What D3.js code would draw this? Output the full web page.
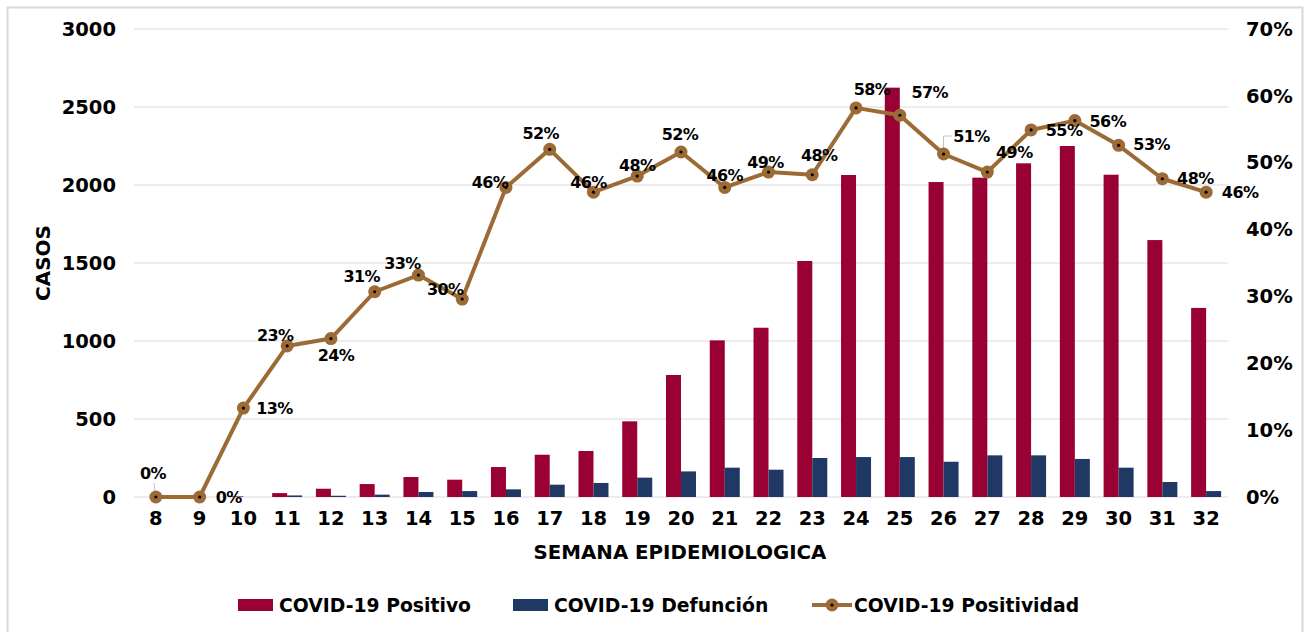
<!DOCTYPE html>
<html>
<head>
<meta charset="utf-8">
<script src="https://cdn.jsdelivr.net/npm/d3@7"></script>
<style>
  body { margin: 0; background: #fff; }
  svg text { font-family: "DejaVu Sans", sans-serif; font-weight: bold; fill: #000; }
</style>
</head>
<body>
<svg width="1306" height="632"></svg>
<script>
// semanas epidemiologicas
const weeks = [8, 9, 10, 11, 12, 13, 14, 15, 16, 17, 18, 19, 20, 21, 22, 23, 24, 25, 26, 27, 28, 29, 30, 31, 32];
const positivos = [0, 0, 4, 25, 53, 83, 128, 111, 192, 271, 295, 485, 782, 1004, 1085, 1513, 2064, 2624, 2019, 2047, 2139, 2250, 2066, 1647, 1212];
const defunciones = [0, 0, 0, 10, 8, 15, 32, 38, 49, 79, 90, 124, 164, 188, 175, 250, 256, 256, 226, 267, 267, 244, 188, 96, 38];
const positividad = [0, 0, 13.3, 22.6, 23.7, 30.7, 33.2, 29.6, 46.3, 52.0, 45.6, 48.0, 51.6, 46.3, 48.6, 48.2, 58.2, 57.1, 51.3, 48.6, 54.9, 56.3, 52.6, 47.6, 45.6];
const leftTicks = [0, 500, 1000, 1500, 2000, 2500, 3000];
const rightTicks = [0, 10, 20, 30, 40, 50, 60, 70];
const legendLabels = ['COVID-19 Positivo', 'COVID-19 Defunción', 'COVID-19 Positividad'];

// where each % label sits relative to its point (dx, dy)
const labelOffsets = [[-3, -24], [29, 0], [31, 0], [-12, -10], [5, 17], [-13, -15], [-16, -12], [-17, -10],
  [-16, -5], [-9, -16], [-5, -10], [0, -11], [-1, -18], [0, -12], [-3, -10], [7, -19], [16, -18],
  [30, -23], [28, -18], [27, -20], [33, 1], [33, 1], [33, -1], [33, 0], [34, 0]];

const RED = '#990033', BLUE = '#203864', BROWN = '#9c6a35';

const svg = d3.select('svg');

// outer frame
svg.append('rect')
  .attr('x', 7.5).attr('y', 7.5)
  .attr('width', 1295).attr('height', 640)
  .attr('fill', 'none')
  .attr('stroke', '#d9d9d9')
  .attr('stroke-width', 2);

const x = d3.scaleBand().domain(weeks).range([134, 1228]).padding(0);
const yL = d3.scaleLinear().domain([0, 3000]).range([497, 29]);
const yR = d3.scaleLinear().domain([0, 70]).range([497, 29]);
const barW = 15;

// gridlines
svg.append('g')
  .selectAll('line')
  .data(leftTicks)
  .enter()
  .append('line')
  .attr('x1', 134).attr('x2', 1228)
  .attr('y1', d => yL(d)).attr('y2', d => yL(d))
  .attr('stroke', '#d9d9d9')
  .attr('stroke-width', 1);

// left axis
const leftAxis = svg.append('g')
  .attr('transform', 'translate(116,0)')
  .call(d3.axisLeft(yL).tickValues(leftTicks).tickSize(0).tickPadding(0).tickFormat(d3.format('d')));
leftAxis.select('.domain').remove();
leftAxis.selectAll('text').attr('font-size', 19.5).attr('font-family', null);

// right axis
const rightAxis = svg.append('g')
  .attr('transform', 'translate(1246,0)')
  .call(d3.axisRight(yR).tickValues(rightTicks).tickSize(0).tickPadding(0).tickFormat(d => d + '%'));
rightAxis.select('.domain').remove();
rightAxis.selectAll('text').attr('font-size', 19.5).attr('font-family', null);

// bottom axis
const bottomAxis = svg.append('g')
  .attr('transform', 'translate(0,511)')
  .call(d3.axisBottom(x).tickSize(0).tickPadding(0));
bottomAxis.select('.domain').remove();
bottomAxis.selectAll('text').attr('font-size', 19.5).attr('font-family', null).attr('dy', '0.71em');

// axis titles
svg.append('text')
  .attr('transform', 'translate(43,263) rotate(-90)')
  .attr('text-anchor', 'middle')
  .attr('dominant-baseline', 'central')
  .attr('font-size', 20)
  .text('CASOS');

svg.append('text')
  .attr('x', 680).attr('y', 552)
  .attr('text-anchor', 'middle')
  .attr('dominant-baseline', 'central')
  .attr('font-size', 19.8)
  .text('SEMANA EPIDEMIOLOGICA');

// bars
svg.append('g')
  .selectAll('.pos')
  .data(weeks)
  .enter()
  .append('rect')
  .classed('pos', true)
  .attr('x', (d) => x(d) + x.bandwidth() / 2 - barW)
  .attr('y', (d, i) => yL(positivos[i]))
  .attr('width', barW)
  .attr('height', (d, i) => yL(0) - yL(positivos[i]))
  .attr('fill', RED);

svg.append('g')
  .selectAll('.def')
  .data(weeks)
  .enter()
  .append('rect')
  .classed('def', true)
  .attr('x', (d) => x(d) + x.bandwidth() / 2)
  .attr('y', (d, i) => yL(defunciones[i]))
  .attr('width', barW)
  .attr('height', (d, i) => yL(0) - yL(defunciones[i]))
  .attr('fill', BLUE);

// positividad line
const cx = (d) => x(d) + x.bandwidth() / 2;
const line = d3.line()
  .x((d, i) => cx(weeks[i]))
  .y((d) => yR(d));

svg.append('path')
  .datum(positividad)
  .attr('d', line)
  .attr('fill', 'none')
  .attr('stroke', BROWN)
  .attr('stroke-width', 4)
  .attr('stroke-linejoin', 'round');

// leader lines for the labels that sit apart (week 8, 26)
const leaders = svg.append('g').attr('stroke', '#bfbfbf').attr('fill', 'none').attr('stroke-width', 1);
leaders.append('path')
  .attr('d', `M${cx(8)},${yR(positividad[0])} L${cx(8) - 2},${yR(positividad[0]) - 14}`);
leaders.append('path')
  .attr('d', `M${cx(26)},${yR(positividad[18])} L${cx(26)},${yR(positividad[18]) - 18} L${cx(26) + 8},${yR(positividad[18]) - 18}`);

const markers = svg.append('g');
markers.selectAll('circle.m')
  .data(positividad)
  .enter()
  .append('circle')
  .classed('m', true)
  .attr('cx', (d, i) => cx(weeks[i]))
  .attr('cy', d => yR(d))
  .attr('r', 6.5)
  .attr('fill', BROWN);
markers.selectAll('circle.dot')
  .data(positividad)
  .enter()
  .append('circle')
  .classed('dot', true)
  .attr('cx', (d, i) => cx(weeks[i]))
  .attr('cy', d => yR(d))
  .attr('r', 1.6)
  .attr('fill', '#000');

// % labels
svg.append('g')
  .selectAll('text')
  .data(positividad)
  .enter()
  .append('text')
  .attr('x', (d, i) => cx(weeks[i]) + labelOffsets[i][0])
  .attr('y', (d, i) => yR(d) + labelOffsets[i][1])
  .attr('text-anchor', 'middle')
  .attr('dominant-baseline', 'central')
  .attr('font-size', 16)
  .attr('letter-spacing', -0.6)
  .text(d => Math.round(d) + '%');

// legend
const legend = svg.append('g').attr('transform', 'translate(0,605)');
const legendX = [238, 513, 812];
legend.append('rect').attr('x', legendX[0]).attr('y', -6).attr('width', 35).attr('height', 12).attr('fill', RED);
legend.append('rect').attr('x', legendX[1]).attr('y', -6).attr('width', 35).attr('height', 12).attr('fill', BLUE);
legend.append('line').attr('x1', legendX[2]).attr('x2', legendX[2] + 40).attr('y1', 0).attr('y2', 0)
  .attr('stroke', BROWN).attr('stroke-width', 4);
legend.append('circle').attr('cx', legendX[2] + 20).attr('cy', 0).attr('r', 6.5).attr('fill', BROWN);
legend.append('circle').attr('cx', legendX[2] + 20).attr('cy', 0).attr('r', 1.6).attr('fill', '#000');

legend.selectAll('text')
  .data(legendLabels)
  .enter()
  .append('text')
  .attr('x', (d, i) => legendX[i] + (i === 2 ? 42 : 41))
  .attr('y', 0)
  .attr('dominant-baseline', 'central')
  .attr('font-size', 18.8)
  .text(d => d);
</script>
</body>
</html>
